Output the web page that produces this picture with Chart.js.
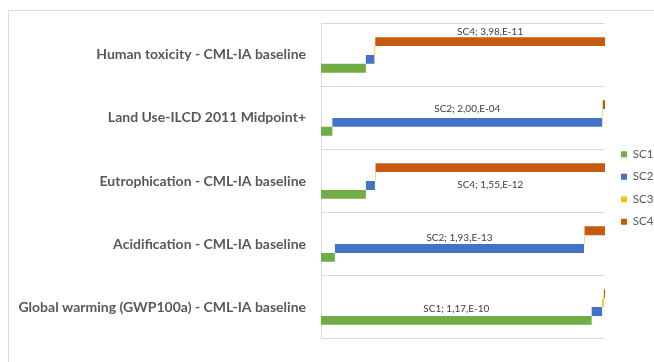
<!DOCTYPE html>
<html>
<head>
<meta charset="utf-8">
<script src="https://cdn.jsdelivr.net/npm/chart.js@4.4.1/dist/chart.umd.min.js"></script>
<style>
  html, body { margin: 0; padding: 0; background: #fff; }
  #wrap { width: 654px; height: 362px; position: relative; }
</style>
</head>
<body>
<div id="wrap"><canvas id="impactChart" width="654" height="362"></canvas></div>
<script>
// categories, top to bottom
let categories = [
  "Human toxicity - CML-IA baseline",
  "Land Use-ILCD 2011 Midpoint+",
  "Eutrophication - CML-IA baseline",
  "Acidification - CML-IA baseline",
  "Global warming (GWP100a) - CML-IA baseline"
];
let seriesNames = ["SC1", "SC2", "SC3", "SC4"];

// share of each scenario in the category total (%)
let sc1Share = [15.8, 4.0, 15.8, 4.9, 95.3];
let sc2Share = [3.0, 95.0, 3.2, 87.7, 3.7];
let sc3Share = [0.3, 0.2, 0.2, 0.2, 0.6];
let sc4Share = [80.9, 0.8, 80.8, 7.2, 0.4];

// the one value written on each category
let labelSeries = ["SC4", "SC2", "SC4", "SC2", "SC1"];
let labelValues = ["3,98,E-11", "2,00,E-04", "1,55,E-12", "1,93,E-13", "1,17,E-10"];

let colors = {SC1: "#70ad47", SC2: "#4472c4", SC3: "#ffc000", SC4: "#c55a11"};
// where the value text sits, in bar rows relative to its bar (negative = up)
let labelRowShift = [-1.08, -1.55, 1.9, -1.24, -1.34];

function buildRanges(){
  let shares = [sc1Share, sc2Share, sc3Share, sc4Share];
  let ranges = [[], [], [], []];
  for(let i = 0; i < categories.length; i++){
    let start = 0;
    for(let s = 0; s < shares.length; s++){
      let end = start + shares[s][i];
      ranges[s].push([start, end]);
      start = end;
    }
  }
  return ranges;
}

let ranges = buildRanges();
// SC4 first so it sits at the top of each group, SC1 at the bottom
let datasets = [];
for(let s = seriesNames.length - 1; s >= 0; s--){
  datasets.push({
    label: seriesNames[s],
    data: ranges[s],
    backgroundColor: colors[seriesNames[s]],
    borderWidth: 0
  });
}

let framePlugin = {
  id: "frame",
  beforeDraw(chart){
    let ctx = chart.ctx;
    ctx.save();
    ctx.strokeStyle = "#d9d9d9";
    ctx.lineWidth = 1;
    ctx.beginPath();
    ctx.moveTo(8.5, 362);
    ctx.lineTo(8.5, 10.5);
    ctx.lineTo(654, 10.5);
    ctx.stroke();
    ctx.restore();
  },
  afterLayout(chart){
    // push the legend a little away from the plot, like the original
    chart.legend.left += 5;
    chart.legend.right += 5;
  }
};

let valueLabels = {
  id: "valueLabels",
  afterDatasetsDraw(chart){
    let ctx = chart.ctx;
    ctx.save();
    ctx.font = "10px Lato";
    ctx.fillStyle = "#404040";
    ctx.textAlign = "center";
    ctx.textBaseline = "middle";
    for(let i = 0; i < categories.length; i++){
      let dsIndex = chart.data.datasets.findIndex(d => d.label === labelSeries[i]);
      let bar = chart.getDatasetMeta(dsIndex).data[i];
      let x = (bar.x + bar.base) / 2;
      let y = bar.y + labelRowShift[i] * bar.height;
      ctx.fillText(labelSeries[i] + "; " + labelValues[i], x, y);
    }
    ctx.restore();
  }
};

new Chart(document.getElementById("impactChart"), {
  type: "bar",
  data: { labels: categories, datasets: datasets },
  options: {
    responsive: false,
    animation: false,
    indexAxis: "y",
    layout: { padding: { left: 8, top: 23, bottom: 9 } },
    datasets: { bar: { categoryPercentage: 0.564, barPercentage: 1, grouped: true } },
    scales: {
      x: { display: false, min: 0, max: 100 },
      y: {
        grid: { color: "#d9d9d9", drawTicks: false, offset: true },
        border: { display: true, color: "#d9d9d9" },
        ticks: { color: "#595959", padding: 15, font: { family: "Lato", size: 14, weight: "bold" } },
        afterFit(scale){ scale.width = 313; }
      }
    },
    plugins: {
      tooltip: { enabled: false },
      legend: {
        position: "right",
        reverse: true,
        maxWidth: 49,
        labels: {
          boxWidth: 6, boxHeight: 6, padding: 11, color: "#595959",
          font: { family: "Lato", size: 11.5 }
        }
      }
    }
  },
  plugins: [framePlugin, valueLabels]
});
</script>
</body>
</html>
